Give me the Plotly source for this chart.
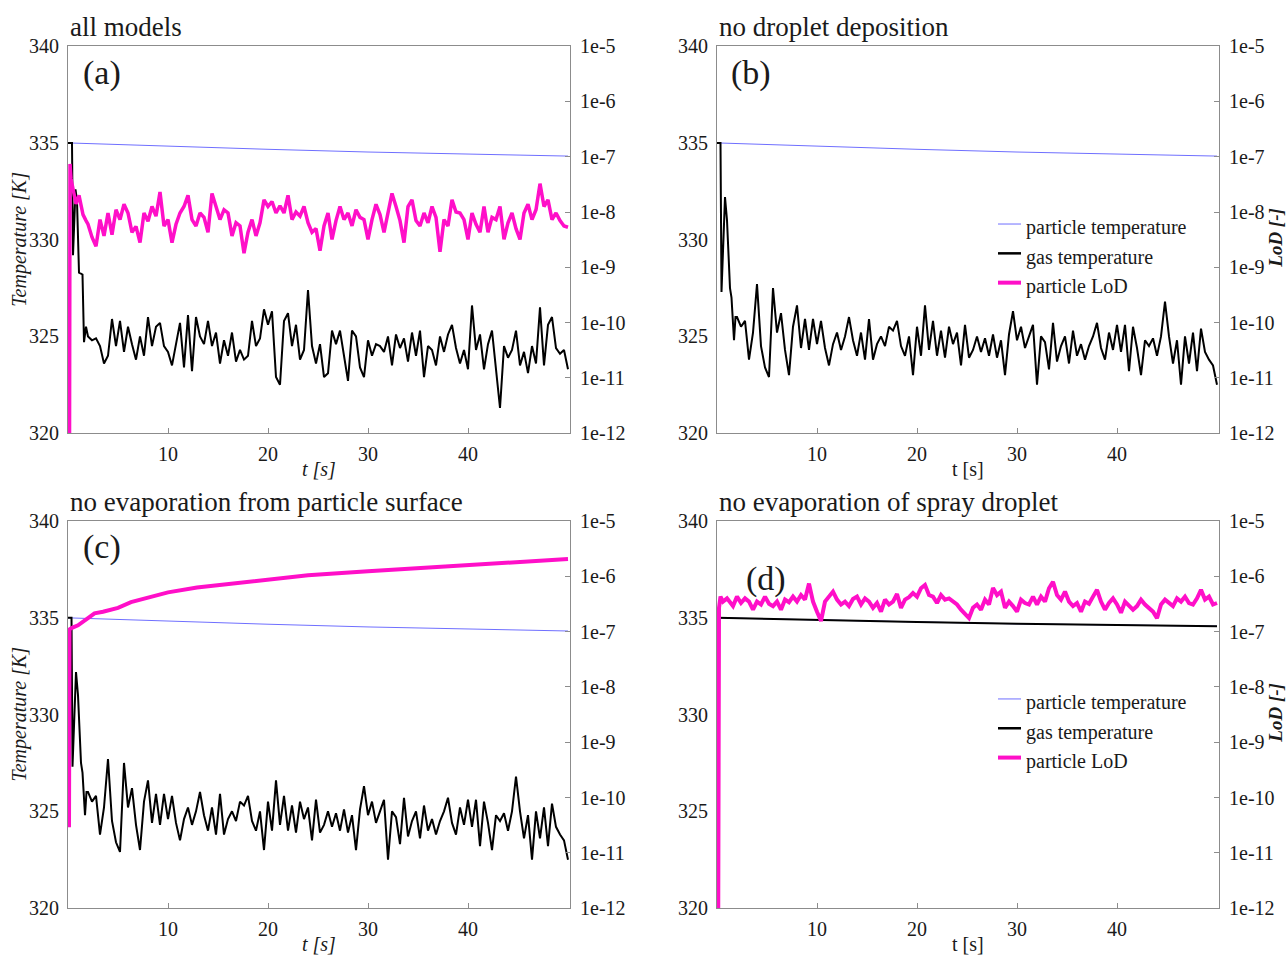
import numpy as np
import plotly.graph_objects as go

W, H = 1286, 965
FONT = "Liberation Serif"
BLUE = "#6f6fff"
MAGENTA = "#ff0fc8"
AXIS_GREY = "#8c8c8c"
TEXT = "#1a1a1a"

# sampling times of the fluctuating records after the start-up transient [s]
t_grid = np.round(2.0 + 0.4 * np.arange(121), 1)

# particle temperature [K] (panels a-c)
tp_t = [0, 10, 20, 30, 40, 50]
tp_abc = [335.0, 334.83, 334.67, 334.53, 334.42, 334.32]
# panel d: gas and particle temperature coincide [K]
temp_d = [335.0, 334.91, 334.79, 334.69, 334.62, 334.57]

# gas temperature, all models [K]
gas_a_head_t = [0.0, 0.4, 0.5, 0.75, 0.9, 1.1, 1.45, 1.6, 1.8]
gas_a_head = [335.0, 335.0, 329.2, 332.6, 332.0, 328.3, 328.2, 324.7, 325.5]
gas_a = [
    325.0, 324.8, 324.9, 324.5, 323.6, 324.0, 325.9, 324.5, 325.8, 324.2,
    325.5, 324.6, 323.8, 325.0, 324.0, 326.0, 324.5, 325.5, 325.7, 324.5,
    324.2, 323.5, 324.6, 325.7, 323.4, 326.1, 323.2, 326.0, 325.0, 324.6,
    325.8, 324.5, 325.2, 323.6, 324.8, 324.0, 325.2, 323.7, 324.3, 323.8,
    324.0, 325.8, 324.5, 324.9, 326.4, 325.6, 326.3, 322.9, 322.5, 325.8,
    326.2, 324.5, 325.6, 323.8, 324.3, 327.4, 324.5, 323.6, 324.6, 322.9,
    323.1, 325.3, 324.6, 325.3, 324.0, 322.7, 325.3, 325.0, 323.4, 322.9,
    324.8, 324.0, 324.6, 324.5, 324.2, 325.0, 323.5, 325.1, 324.4, 324.9,
    323.7, 325.2, 324.0, 325.3, 322.9, 324.5, 324.3, 323.5, 325.0, 324.2,
    325.1, 325.6, 324.4, 323.6, 324.3, 323.3, 326.6, 324.3, 325.1, 323.3,
    324.6, 325.3, 323.3, 321.3, 324.5, 323.9, 324.3, 325.3, 323.5, 324.2,
    323.1, 324.5, 323.6, 326.5, 323.5, 325.6, 326.0, 324.4, 324.1, 324.3,
    323.3,
]

# gas temperature, runs without droplet deposition / surface evaporation [K]
gas_bc_head_t = [0.0, 0.35, 0.45, 0.8, 1.0, 1.3, 1.45, 1.7, 1.85]
gas_bc_head = [335.0, 335.0, 327.3, 332.2, 331.0, 327.5, 327.0, 324.8, 326.0]
gas_bc = [
    326.0, 325.5, 325.8, 323.8, 325.2, 327.7, 324.5, 323.4, 322.9, 327.5,
    325.2, 326.2, 324.3, 323.0, 325.5, 326.6, 324.4, 325.9, 324.3, 325.9,
    324.6, 325.8, 324.4, 323.5, 324.6, 325.2, 324.3, 325.0, 326.0, 324.8,
    324.0, 325.2, 323.8, 325.9, 323.8, 324.6, 325.0, 324.5, 325.5, 325.3,
    325.8, 324.5, 324.0, 325.0, 323.0, 325.5, 324.0, 326.6, 324.3, 325.8,
    324.0, 325.3, 323.9, 325.5, 324.6, 325.2, 323.5, 325.6, 323.9, 324.3,
    325.0, 324.2, 324.9, 324.0, 325.1, 323.9, 324.8, 323.0, 325.1, 326.3,
    324.8, 325.5, 324.4, 325.0, 325.6, 322.5, 325.0, 324.7, 323.3, 325.7,
    323.7, 324.5, 325.0, 323.6, 325.3, 324.0, 324.6, 323.8, 324.5, 325.0,
    325.7, 324.4, 323.8, 325.2, 324.3, 325.6, 324.2, 325.6, 323.2, 325.5,
    324.4, 323.0, 324.8, 324.5, 324.9, 324.0, 325.0, 326.8, 325.0, 323.6,
    324.8, 322.5, 325.0, 323.6, 325.2, 323.2, 325.4, 324.2, 323.8, 323.5,
    322.5,
]

# particle LoD, all models [1e-9]
lod_a_head_t = [0.15, 0.2, 0.3, 0.5, 0.8, 1.1, 1.5, 1.8]
lod_a_head = [0.0005, 74.0, 40.0, 25.0, 14.0, 20.0, 9.0, 7.0]
lod_a = [
    6.0, 3.5, 2.4, 7.3, 3.7, 9.6, 3.9, 11.0, 7.3, 13.8,
    9.6, 4.3, 5.5, 2.8, 9.6, 6.8, 12.6, 8.4, 23.0, 5.6,
    7.3, 2.8, 6.0, 9.6, 12.6, 20.0, 7.3, 5.6, 9.6, 8.0,
    4.3, 21.7, 12.6, 7.3, 11.0, 9.6, 3.7, 6.4, 5.6, 1.8,
    4.3, 7.3, 3.7, 6.4, 16.6, 12.6, 15.5, 9.6, 13.0, 9.6,
    20.0, 7.3, 10.0, 8.4, 12.6, 6.4, 4.3, 5.0, 2.0, 5.6,
    9.6, 3.2, 7.0, 12.6, 7.3, 9.6, 5.6, 11.0, 8.0, 7.3,
    3.2, 7.3, 13.8, 9.0, 4.3, 9.6, 21.7, 12.6, 7.0, 2.8,
    12.6, 16.6, 7.0, 5.6, 9.6, 6.4, 12.6, 8.0, 1.9, 7.3,
    5.6, 16.6, 10.0, 9.6, 7.3, 3.2, 9.6, 6.0, 4.3, 12.6,
    4.3, 8.0, 7.3, 12.6, 3.2, 6.4, 9.6, 5.0, 3.2, 9.6,
    13.8, 7.3, 11.0, 32.6, 12.6, 16.6, 7.3, 9.6, 7.0, 5.6,
    5.3,
]

# particle LoD without evaporation from the particle surface [-]
lod_c_t = [0.1, 0.15, 0.4, 1.0, 2.0, 2.65, 3.5, 5.0, 6.3, 8.0,
           10.0, 12.9, 16.0, 20.0, 24.0, 30.0, 34.0, 40.0, 46.0, 50.0]
lod_c = [2.9e-11, 1.1e-7, 1.17e-7, 1.3e-7, 1.75e-7, 2.14e-7, 2.29e-7, 2.7e-7,
         3.43e-7, 4.2e-7, 5.14e-7, 6.3e-7, 7.2e-7, 8.8e-7, 1.05e-6, 1.24e-6,
         1.38e-6, 1.62e-6, 1.9e-6, 2.06e-6]

# particle LoD without evaporation of the spray droplet [1e-7]
lod_d_head_t = [0.12, 0.2, 0.35, 0.6, 1.0, 1.3, 1.6]
lod_d_head = [0.000005, 2.7, 4.3, 3.5, 4.0, 3.3, 2.9]
lod_d = [
    4.3, 3.3, 4.0, 3.5, 2.5, 3.5, 3.1, 4.3, 3.2, 2.9,
    3.5, 2.5, 3.8, 3.4, 4.3, 3.5, 4.6, 3.8, 7.4, 3.5,
    2.3, 1.56, 3.5, 4.3, 5.3, 3.8, 3.1, 3.5, 2.9, 3.9,
    4.3, 3.1, 4.0, 3.5, 2.7, 3.3, 2.3, 3.8, 3.1, 3.5,
    4.8, 2.7, 3.8, 4.2, 5.0, 4.3, 6.1, 7.0, 4.6, 4.3,
    3.3, 4.6, 3.8, 4.0, 3.5, 3.1, 2.5, 2.05, 1.76, 2.7,
    3.1, 2.5, 3.8, 3.1, 6.2, 4.6, 5.3, 2.7, 3.5, 2.9,
    2.3, 3.8, 3.3, 3.1, 4.3, 3.1, 4.3, 3.5, 6.1, 8.0,
    4.6, 3.8, 5.3, 3.5, 2.9, 3.3, 2.3, 3.5, 3.2, 4.3,
    5.7, 3.5, 2.5, 3.3, 4.0, 3.1, 2.2, 3.5, 2.9, 2.5,
    2.9, 3.8, 3.1, 2.7, 2.3, 1.76, 3.1, 3.8, 3.4, 2.9,
    4.0, 3.5, 4.3, 3.3, 3.1, 4.0, 5.7, 3.8, 4.3, 3.1,
    3.3,
]

panel_titles = ["all models", "no droplet deposition",
                "no evaporation from particle surface", "no evaporation of spray droplet"]
panel_tags = ["(a)", "(b)", "(c)", "(d)"]
temp_ticks = [320, 325, 330, 335, 340]
lod_ticks = [1e-5, 1e-6, 1e-7, 1e-8, 1e-9, 1e-10, 1e-11, 1e-12]
lod_tick_text = ["1e-5", "1e-6", "1e-7", "1e-8", "1e-9", "1e-10", "1e-11", "1e-12"]
time_ticks = [10, 20, 30, 40]
legend_names = ["particle temperature", "gas temperature", "particle LoD"]


def px(x):
    return x / W


def py(y):
    return 1 - y / H


# panel frames in pixels: (left, right, top, bottom)
frames = [(68, 570, 36, 432), (717, 1219, 36, 432),
          (68, 570, 522, 918), (717, 1219, 522, 918)]

fig = go.Figure()


def add(x, y, k, right, color, width, name):
    fig.add_trace(go.Scatter(
        x=list(x), y=list(y), mode="lines", name=name, showlegend=False,
        line=dict(color=color, width=width), hoverinfo="x+y",
        xaxis=f"x{k}", yaxis=f"y{k + 4}" if right else f"y{k}"))


# (a) all models
add(tp_t, tp_abc, 1, False, BLUE, 1, legend_names[0])
add(gas_a_head_t + list(t_grid), gas_a_head + gas_a, 1, False, "black", 2, legend_names[1])
add(lod_a_head_t + list(t_grid), np.array(lod_a_head + lod_a) * 1e-9, 1, True, MAGENTA, 3.5, legend_names[2])
# (b) no droplet deposition (no LoD record; the LoD axis is still shown)
add(tp_t, tp_abc, 2, False, BLUE, 1, legend_names[0])
add(gas_bc_head_t + list(t_grid), gas_bc_head + gas_bc, 2, False, "black", 2, legend_names[1])
add([None], [None], 2, True, MAGENTA, 3, legend_names[2])
# (c) no evaporation from particle surface
add(tp_t, tp_abc, 3, False, BLUE, 1, legend_names[0])
add(gas_bc_head_t + list(t_grid), gas_bc_head + gas_bc, 3, False, "black", 2, legend_names[1])
add(lod_c_t, lod_c, 3, True, MAGENTA, 4, legend_names[2])
# (d) no evaporation of spray droplet
add(tp_t, temp_d, 4, False, BLUE, 1, legend_names[0])
add(tp_t, temp_d, 4, False, "black", 2, legend_names[1])
add(lod_d_head_t + list(t_grid), np.array(lod_d_head + lod_d) * 1e-7, 4, True, MAGENTA, 4, legend_names[2])

tick_font = dict(family=FONT, size=20, color=TEXT)
layout = dict(
    width=W, height=H, margin=dict(l=0, r=0, t=0, b=0),
    paper_bgcolor="white", plot_bgcolor="white", showlegend=False,
    font=dict(family=FONT, color=TEXT),
)
annotations = []
shapes = []

for k, (l, r, t, b) in enumerate(frames, start=1):
    xd = [px(l), px(r)]
    yd = [py(b), py(t)]
    layout[f"xaxis{k}"] = dict(
        domain=xd, anchor=f"y{k}", range=[0, 50.2], tickvals=time_ticks,
        ticks="inside", ticklen=5, tickcolor=AXIS_GREY, showline=True,
        linecolor=AXIS_GREY, linewidth=1, mirror=True, showgrid=False,
        zeroline=False, tickfont=tick_font, ticklabelstandoff=3)
    layout[f"yaxis{k}"] = dict(
        domain=yd, anchor=f"x{k}", range=[320, 340], tickvals=temp_ticks,
        ticks="", showline=True, linecolor=AXIS_GREY, linewidth=1,
        mirror=True, showgrid=False, zeroline=False, tickfont=tick_font,
        ticklabelstandoff=4)
    layout[f"yaxis{k + 4}"] = dict(
        overlaying=f"y{k}", anchor=f"x{k}", side="right", type="log",
        range=[-12, -5], tickvals=lod_ticks, ticktext=lod_tick_text,
        ticks="inside", ticklen=5, tickcolor=AXIS_GREY, showline=True,
        linecolor=AXIS_GREY, linewidth=1, showgrid=False, zeroline=False,
        tickfont=tick_font, ticklabelstandoff=5)

    # panel heading and tag
    annotations.append(dict(
        text=panel_titles[k - 1], x=px(l), y=py(t - 2), xref="paper", yref="paper",
        xanchor="left", yanchor="bottom", showarrow=False,
        font=dict(family=FONT, size=27, color=TEXT)))
    tag_y = t + 27 if k != 4 else t + 59
    tag_x = l + 34 if k != 4 else l + 49
    annotations.append(dict(
        text=panel_tags[k - 1], x=px(tag_x), y=py(tag_y), xref="paper", yref="paper",
        xanchor="center", yanchor="middle", showarrow=False,
        font=dict(family=FONT, size=34, color=TEXT)))
    # time axis title
    italic = k in (1, 3)
    annotations.append(dict(
        text="<i>t [s]</i>" if italic else "t [s]", x=px((l + r) / 2), y=py(b + 37),
        xref="paper", yref="paper", xanchor="center", yanchor="middle",
        showarrow=False, font=dict(family=FONT, size=20, color=TEXT)))
    if k in (1, 3):
        annotations.append(dict(
            text="<i>Temperature [K]</i>", x=px(20), y=py((t + b) / 2), xref="paper",
            yref="paper", xanchor="center", yanchor="middle", textangle=-90,
            showarrow=False, font=dict(family=FONT, size=20, color=TEXT)))
    else:
        annotations.append(dict(
            text="<b><i>LoD [-]</i></b>", x=px(1276), y=py(t + 196), xref="paper",
            yref="paper", xanchor="center", yanchor="middle", textangle=-90,
            showarrow=False, font=dict(family=FONT, size=19, color=TEXT)))
        # legend block
        rows_y = [t + 186, t + 216, t + 246]
        styles = [(BLUE, 1), ("black", 2.5), (MAGENTA, 4)]
        for name, ry, (col, wd) in zip(legend_names, rows_y, styles):
            shapes.append(dict(type="line", xref="paper", yref="paper",
                               x0=px(l + 281), x1=px(l + 304), y0=py(ry - 4), y1=py(ry - 4),
                               line=dict(color=col, width=wd)))
            annotations.append(dict(
                text=name, x=px(l + 307), y=py(ry), xref="paper", yref="paper",
                xanchor="left", yanchor="middle", showarrow=False,
                font=dict(family=FONT, size=20, color=TEXT)))

layout["annotations"] = annotations
layout["shapes"] = shapes
fig.update_layout(**layout)
fig.write_html("out.html")
